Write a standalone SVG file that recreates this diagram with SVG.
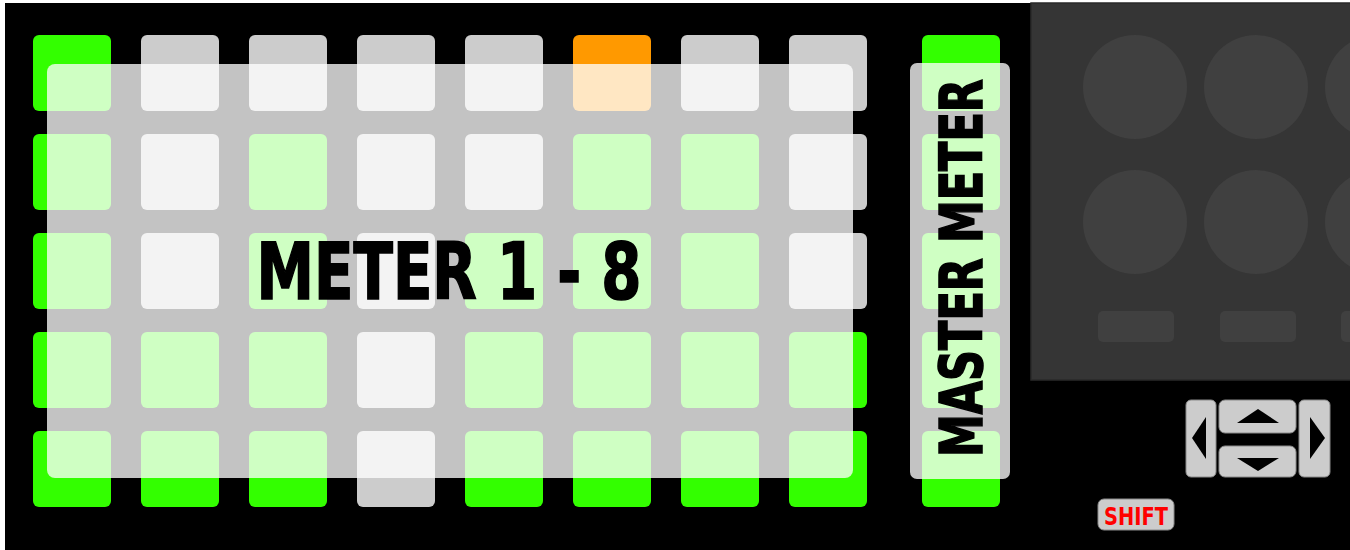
<svg xmlns="http://www.w3.org/2000/svg" width="1350" height="550" viewBox="0 0 1350 550">
<style>
.pad{rx:6;ry:6;width:78px;height:76px}
.g{fill:#33ff00}
.w{fill:#cccccc}
.o{fill:#ff9900}
.ov{fill:#ffffff;fill-opacity:0.765}
.knob{fill:#404040}
.nav{fill:#cccccc;stroke:#8a8a8a;stroke-width:1}
.big{font-family:"DejaVu Sans Condensed","DejaVu Sans",sans-serif;font-weight:bold;fill:#000;stroke:#000;stroke-width:1.6}
</style>
<rect x="0" y="0" width="1350" height="550" fill="#ffffff"/>
<rect x="5" y="3" width="1345" height="547" fill="#000000"/>
<g id="panel">
<rect x="1031" y="3" width="325" height="377" fill="#353535" stroke="#2a2a2a" stroke-width="1.5"/>
<circle class="knob" cx="1135" cy="87" r="52"/>
<circle class="knob" cx="1256" cy="87" r="52"/>
<circle class="knob" cx="1377" cy="87" r="52"/>
<circle class="knob" cx="1135" cy="222" r="52"/>
<circle class="knob" cx="1256" cy="222" r="52"/>
<circle class="knob" cx="1377" cy="222" r="52"/>
<rect class="knob" x="1098" y="311" width="76" height="31" rx="5"/>
<rect class="knob" x="1220" y="311" width="76" height="31" rx="5"/>
<rect class="knob" x="1341" y="311" width="76" height="31" rx="5"/>
</g>
<g id="pads">
<rect class="pad g" x="33" y="35"/><rect class="pad w" x="141" y="35"/><rect class="pad w" x="249" y="35"/><rect class="pad w" x="357" y="35"/><rect class="pad w" x="465" y="35"/><rect class="pad o" x="573" y="35"/><rect class="pad w" x="681" y="35"/><rect class="pad w" x="789" y="35"/>
<rect class="pad g" x="33" y="134"/><rect class="pad w" x="141" y="134"/><rect class="pad g" x="249" y="134"/><rect class="pad w" x="357" y="134"/><rect class="pad w" x="465" y="134"/><rect class="pad g" x="573" y="134"/><rect class="pad g" x="681" y="134"/><rect class="pad w" x="789" y="134"/>
<rect class="pad g" x="33" y="233"/><rect class="pad w" x="141" y="233"/><rect class="pad g" x="249" y="233"/><rect class="pad w" x="357" y="233"/><rect class="pad g" x="465" y="233"/><rect class="pad g" x="573" y="233"/><rect class="pad g" x="681" y="233"/><rect class="pad w" x="789" y="233"/>
<rect class="pad g" x="33" y="332"/><rect class="pad g" x="141" y="332"/><rect class="pad g" x="249" y="332"/><rect class="pad w" x="357" y="332"/><rect class="pad g" x="465" y="332"/><rect class="pad g" x="573" y="332"/><rect class="pad g" x="681" y="332"/><rect class="pad g" x="789" y="332"/>
<rect class="pad g" x="33" y="431"/><rect class="pad g" x="141" y="431"/><rect class="pad g" x="249" y="431"/><rect class="pad w" x="357" y="431"/><rect class="pad g" x="465" y="431"/><rect class="pad g" x="573" y="431"/><rect class="pad g" x="681" y="431"/><rect class="pad g" x="789" y="431"/>
</g>
<g id="master-pads">
<rect class="pad g" x="922" y="35"/><rect class="pad g" x="922" y="134"/><rect class="pad g" x="922" y="233"/><rect class="pad g" x="922" y="332"/><rect class="pad g" x="922" y="431"/>
</g>
<g id="meter-overlay">
<rect class="ov" x="47" y="64" width="806" height="414" rx="8"/>
<text class="big" x="449" y="299" font-size="79" text-anchor="middle" textLength="385" lengthAdjust="spacingAndGlyphs">METER 1 - 8</text>
</g>
<g id="master-overlay">
<rect class="ov" x="910" y="63" width="100" height="416" rx="7"/>
<text class="big" transform="translate(982,268) rotate(-90)" font-size="58" text-anchor="middle" textLength="378" lengthAdjust="spacingAndGlyphs">MASTER METER</text>
</g>
<g id="nav">
<rect class="nav" x="1186" y="400" width="30" height="77" rx="5"/>
<rect class="nav" x="1219" y="400" width="77" height="33" rx="6"/>
<rect class="nav" x="1219" y="446" width="77" height="31" rx="6"/>
<rect class="nav" x="1299" y="400" width="31" height="77" rx="5"/>
<polygon points="1192,438 1206,417 1206,459" fill="#000"/>
<polygon points="1325,438 1310,417 1310,459" fill="#000"/>
<polygon points="1258,409 1279,423 1237,423" fill="#000"/>
<polygon points="1258,471 1279,458 1237,458" fill="#000"/>
</g>
<g id="shift">
<rect class="nav" x="1098" y="499" width="76" height="31" rx="6"/>
<text x="1136" y="525" font-family="'DejaVu Sans Condensed','DejaVu Sans',sans-serif" font-weight="bold" font-size="24" fill="#ff0000" text-anchor="middle" textLength="64" lengthAdjust="spacingAndGlyphs">SHIFT</text>
</g>
</svg>
